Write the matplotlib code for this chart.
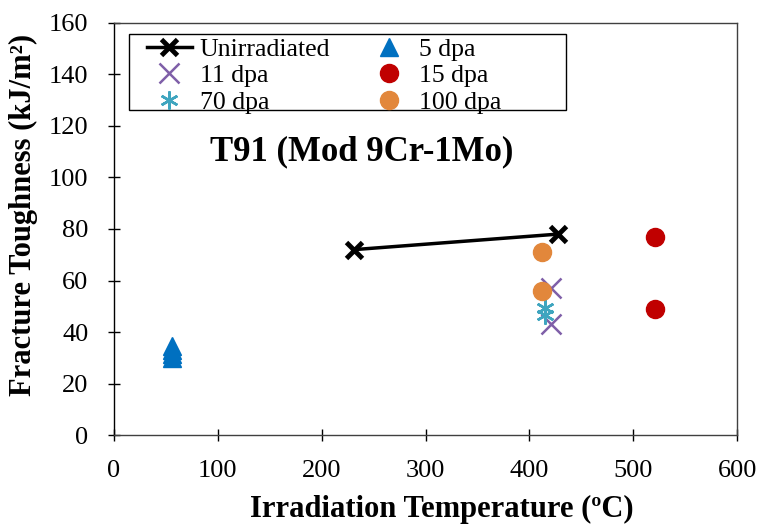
import matplotlib.pyplot as plt
from matplotlib.lines import Line2D
from matplotlib.patches import Rectangle
from matplotlib.legend_handler import HandlerLine2D

plt.rcParams['font.family'] = ['Liberation Serif', 'DejaVu Serif']

# data
unirr_T = [231, 427]
unirr_J = [72, 78]
dpa5_T = [56, 56, 56, 56]
dpa5_J = [34.5, 33, 31.5, 30]
dpa11_T = [421, 421]
dpa11_J = [57, 43]
dpa15_T = [521, 521]
dpa15_J = [77, 49]
dpa70_T = [415, 415]
dpa70_J = [49.5, 46.5]
dpa100_T = [412, 412]
dpa100_J = [71, 56]

x_ticks = [0, 100, 200, 300, 400, 500, 600]
y_ticks = [0, 20, 40, 60, 80, 100, 120, 140, 160]

fig = plt.figure(figsize=(7.6, 5.24), dpi=100)
ax = fig.add_axes([0.15, 0.169, 0.82, 0.788])

ax.plot(unirr_T, unirr_J, color='black', lw=2.5, marker='x', ms=11, mew=3.5,
        label='Unirradiated', zorder=3)
ax.plot(dpa11_T, dpa11_J, ls='none', marker='x', ms=14, mew=1.8,
        color='#7F5FA8', label='11 dpa', zorder=4)
ax.plot(dpa70_T, dpa70_J, ls='none', marker=(6, 2, 0), ms=13, mew=1.8,
        color='#3FA5BF', label='70 dpa', zorder=5)
ax.plot(dpa5_T, dpa5_J, ls='none', marker='^', ms=13,
        color='#0070C0', label='5 dpa', zorder=4)
ax.plot(dpa15_T, dpa15_J, ls='none', marker='o', ms=13,
        color='#C00000', label='15 dpa', zorder=4)
ax.plot(dpa100_T, dpa100_J, ls='none', marker='o', ms=13,
        color='#E2873B', label='100 dpa', zorder=6)

ax.set_xlim(0, 600)
ax.set_ylim(0, 160)
ax.set_xticks(x_ticks)
ax.set_yticks(y_ticks)
ax.tick_params(direction='inout', length=9, width=1, labelsize=19)
ax.tick_params(axis='x', pad=13)
ax.tick_params(axis='y', pad=14)
for s in ax.spines.values():
    s.set_linewidth(1)
    s.set_color('#404040')
ax.spines['left'].set_color('black')

ax.set_xlabel('Irradiation Temperature (\u00baC)', fontsize=22, fontweight='bold')
ax.set_ylabel('Fracture Toughness (kJ/m\u00b2)', fontsize=22, fontweight='bold')
ax.xaxis.set_label_coords(0.526, -0.145)
ax.yaxis.set_label_coords(-0.122, 0.534)

ax.text(238, 110, 'T91 (Mod 9Cr-1Mo)', fontsize=25, fontweight='bold',
        ha='center', va='center')

# legend box in the reference is wider than its contents, so draw it separately
ax.add_patch(Rectangle((0.024, 0.787), 0.7015, 0.186, transform=ax.transAxes,
                       facecolor='white', edgecolor='black', lw=1, zorder=7))
leg = ax.legend(ncol=2, loc='upper left', bbox_to_anchor=(0.024, 0.973),
                fontsize=18.5, frameon=False, borderpad=0.15, labelspacing=0.15,
                handlelength=2.3, handletextpad=0.3, columnspacing=0.85,
                borderaxespad=0, handler_map={Line2D: HandlerLine2D(xpad=0.55)})
leg.set_zorder(8)

fig.savefig('out.png', dpi=100)
